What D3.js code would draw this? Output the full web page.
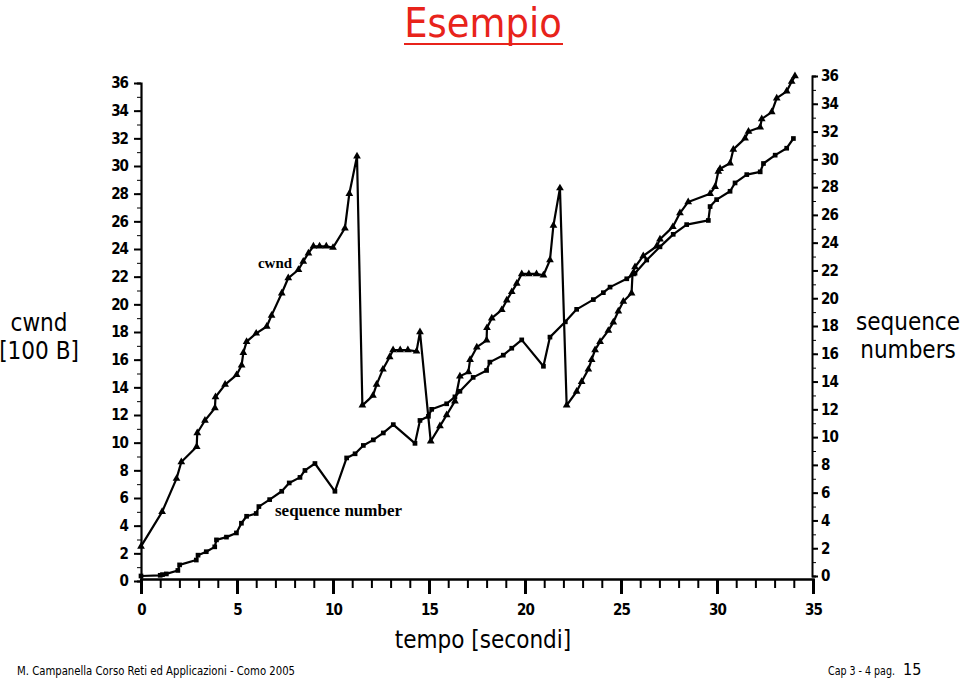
<!DOCTYPE html>
<html>
<head>
<meta charset="utf-8">
<script src="https://cdn.jsdelivr.net/npm/d3@7"></script>
<style>
  html, body { margin: 0; padding: 0; background: #fff; }
  svg { display: block; }
  .tick text { font-family: "DejaVu Sans Condensed", "DejaVu Sans", sans-serif; font-weight: bold; font-size: 15px; letter-spacing: -1px; fill: #000; }
  .tick line, .domain { stroke: #000; }
</style>
</head>
<body>
<svg id="chart" width="960" height="678"></svg>
<script>
// ---- data ----
const cwndTime = [0, 1.1, 1.85, 2.1, 2.9, 2.93, 3.33, 3.85, 3.88, 4.38, 4.98, 5.24, 5.33, 5.5, 6.0, 6.55, 6.8, 7.33, 7.67, 8.2, 8.45, 8.72, 8.98, 9.3, 9.65, 10.0, 10.62, 10.85, 11.25, 11.53, 12.08, 12.27, 12.6, 12.95, 13.13, 13.5, 13.9, 14.35, 14.53, 15.09, 15.57, 15.92, 16.35, 16.61, 17.05, 17.14, 17.49, 18.0, 18.02, 18.27, 18.79, 19.05, 19.31, 19.57, 19.83, 20.2, 20.6, 20.96, 21.3, 21.48, 21.82, 22.17, 22.69, 22.95, 23.3, 23.47, 23.65, 23.91, 24.34, 24.6, 24.86, 25.12, 25.55, 25.6, 25.73, 26.16, 26.86, 27.03, 27.7, 28.07, 28.5, 29.64, 29.9, 30.07, 30.16, 30.68, 30.85, 31.46, 31.64, 32.25, 32.33, 32.85, 33.11, 33.63, 33.89, 34.06];
const cwndValue = [2.5, 5.0, 7.4, 8.6, 9.7, 10.7, 11.6, 12.5, 13.3, 14.2, 14.9, 15.6, 16.5, 17.3, 17.9, 18.4, 19.2, 20.8, 21.9, 22.5, 23.1, 23.7, 24.2, 24.2, 24.2, 24.1, 25.5, 28.0, 30.7, 12.7, 13.4, 14.2, 15.3, 16.2, 16.7, 16.7, 16.7, 16.6, 18.0, 10.1, 11.2, 12.0, 13.0, 14.8, 15.1, 16.0, 16.9, 17.4, 18.3, 19.0, 19.6, 20.3, 20.9, 21.5, 22.2, 22.2, 22.2, 22.1, 23.2, 25.7, 28.4, 12.7, 13.7, 14.4, 15.3, 16.0, 16.7, 17.3, 18.1, 18.7, 19.5, 20.2, 20.8, 22.2, 22.7, 23.5, 24.2, 24.7, 25.6, 26.6, 27.4, 28.0, 28.5, 29.6, 29.8, 30.2, 31.2, 32.0, 32.5, 32.8, 33.4, 33.9, 34.9, 35.4, 36.1, 36.5];

const seqTime = [0, 1.0, 1.12, 1.32, 1.92, 2.01, 2.88, 2.97, 3.4, 3.84, 3.93, 4.45, 4.97, 5.23, 5.5, 6.0, 6.14, 6.7, 7.33, 7.72, 8.28, 8.54, 9.06, 10.1, 10.71, 11.15, 11.58, 12.1, 12.62, 13.14, 14.27, 14.53, 14.97, 15.14, 15.92, 16.35, 16.61, 17.3, 18.0, 18.17, 18.87, 19.31, 19.83, 20.96, 21.3, 22.1, 22.69, 23.56, 24.08, 24.43, 25.3, 25.73, 26.34, 27.03, 27.72, 28.42, 29.55, 29.64, 29.98, 30.68, 30.94, 31.55, 32.25, 32.42, 33.03, 33.63, 33.98];
const seqValue = [0, 0.05, 0.1, 0.15, 0.4, 0.8, 1.15, 1.5, 1.75, 2.1, 2.6, 2.8, 3.1, 3.8, 4.3, 4.5, 5.0, 5.5, 6.1, 6.7, 7.1, 7.6, 8.1, 6.1, 8.5, 8.8, 9.4, 9.8, 10.3, 10.9, 9.55, 11.2, 11.5, 12.0, 12.4, 12.9, 13.3, 14.3, 14.8, 15.4, 15.9, 16.4, 17.0, 15.1, 17.2, 18.3, 19.2, 19.9, 20.4, 20.8, 21.4, 21.8, 22.75, 23.7, 24.6, 25.3, 25.6, 26.6, 27.1, 27.7, 28.3, 28.9, 29.1, 29.7, 30.3, 30.8, 31.5];

const xTicks = [0, 5, 10, 15, 20, 25, 30, 35];
const yTicks = [0, 2, 4, 6, 8, 10, 12, 14, 16, 18, 20, 22, 24, 26, 28, 30, 32, 34, 36];

// ---- drawing ----
const svg = d3.select("#chart");
const x = d3.scaleLinear().domain([0, 35]).range([141, 813]);
const yL = d3.scaleLinear().domain([0, 36]).range([581, 83]);
const yR = d3.scaleLinear().domain([0, 36]).range([576, 76]);
const baseY = 579;

// Title
svg.append("text").attr("x", 483).attr("y", 37).attr("text-anchor", "middle")
  .style("font-family", "'DejaVu Sans Condensed','DejaVu Sans',sans-serif")
  .style("font-size", "41px").attr("fill", "#e8231b").text("Esempio");
svg.append("line").attr("x1", 404).attr("x2", 563).attr("y1", 44).attr("y2", 44)
  .attr("stroke", "#e8231b").attr("stroke-width", 2);

// Left axis (minor + major)
svg.append("g").attr("transform", "translate(141,0)")
  .call(d3.axisLeft(yL).tickValues(d3.range(0, 37, 1)).tickSize(4).tickFormat(""))
  .call(g => g.select(".domain").attr("stroke-width", 2.2));
svg.append("g").attr("transform", "translate(141,0)")
  .call(d3.axisLeft(yL).tickValues(yTicks).tickSize(7).tickPadding(6).tickFormat(d3.format("d")))
  .call(g => g.select(".domain").remove())
  .call(g => g.selectAll("line").attr("stroke-width", 2));

// Right axis
svg.append("g").attr("transform", "translate(812,0)")
  .call(d3.axisRight(yR).tickValues(d3.range(0, 37, 1)).tickSize(4).tickFormat(""))
  .call(g => g.select(".domain").attr("stroke-width", 2));
svg.append("g").attr("transform", "translate(812,0)")
  .call(d3.axisRight(yR).tickValues(yTicks).tickSize(6).tickPadding(3).tickFormat(d3.format("d")))
  .call(g => g.select(".domain").remove())
  .call(g => g.selectAll("line").attr("stroke-width", 2));

// Bottom axis
svg.append("g").attr("transform", `translate(0,${baseY})`)
  .call(d3.axisBottom(x).tickValues(d3.range(0, 36, 1)).tickSize(9).tickFormat(""))
  .call(g => g.select(".domain").attr("stroke-width", 2.5))
  .call(g => g.selectAll("line").attr("stroke-width", 2));
svg.append("g").attr("transform", `translate(0,${baseY})`)
  .call(d3.axisBottom(x).tickValues(xTicks).tickSize(15).tickPadding(10).tickFormat(d3.format("d")))
  .call(g => g.select(".domain").remove())
  .call(g => g.selectAll("line").attr("stroke-width", 3));

// Lines
const cwndData = cwndTime.map((t, i) => [t, cwndValue[i]]);
const seqData = seqTime.map((t, i) => [t, seqValue[i]]);

svg.append("path").datum(cwndData)
  .attr("d", d3.line().x(d => x(d[0])).y(d => yL(d[1])))
  .attr("fill", "none").attr("stroke", "#000").attr("stroke-width", 2.2).attr("stroke-linejoin", "round");
svg.append("path").datum(seqData)
  .attr("d", d3.line().x(d => x(d[0])).y(d => yR(d[1])))
  .attr("fill", "none").attr("stroke", "#000").attr("stroke-width", 2.2).attr("stroke-linejoin", "round");

// Markers
svg.append("g").selectAll("path").data(cwndData).join("path")
  .attr("transform", d => `translate(${x(d[0])},${yL(d[1])})`)
  .attr("d", d3.symbol(d3.symbolTriangle, 26)).attr("fill", "#000");
svg.append("g").selectAll("path").data(seqData).join("path")
  .attr("transform", d => `translate(${x(d[0])},${yR(d[1])})`)
  .attr("d", d3.symbol(d3.symbolSquare, 22)).attr("fill", "#000");

// In-plot labels
svg.append("text").attr("x", 258).attr("y", 268)
  .attr("textLength", 34).attr("lengthAdjust", "spacingAndGlyphs")
  .style("font-family", "'Liberation Serif',serif").style("font-weight", "bold").style("font-size", "14px")
  .text("cwnd");
svg.append("text").attr("x", 275).attr("y", 516)
  .attr("textLength", 127).attr("lengthAdjust", "spacingAndGlyphs")
  .style("font-family", "'Liberation Serif',serif").style("font-weight", "bold").style("font-size", "16px")
  .text("sequence number");

// Axis titles
const titleFont = "'DejaVu Sans Condensed','DejaVu Sans',sans-serif";
svg.append("text").attr("x", 39).attr("y", 331).attr("text-anchor", "middle")
  .style("font-family", titleFont).style("font-size", "24px").text("cwnd");
svg.append("text").attr("x", 39).attr("y", 359).attr("text-anchor", "middle")
  .style("font-family", titleFont).style("font-size", "24px").text("[100 B]");
svg.append("text").attr("x", 908).attr("y", 330).attr("text-anchor", "middle")
  .style("font-family", titleFont).style("font-size", "24px").text("sequence");
svg.append("text").attr("x", 908).attr("y", 358).attr("text-anchor", "middle")
  .style("font-family", titleFont).style("font-size", "24px").text("numbers");
svg.append("text").attr("x", 483).attr("y", 648).attr("text-anchor", "middle")
  .style("font-family", titleFont).style("font-size", "24px").text("tempo [secondi]");

// Footer
svg.append("text").attr("x", 17).attr("y", 675)
  .attr("textLength", 278).attr("lengthAdjust", "spacingAndGlyphs")
  .style("font-family", titleFont).style("font-size", "12px").text("M. Campanella Corso Reti ed Applicazioni - Como 2005");
svg.append("text").attr("x", 828).attr("y", 675)
  .attr("textLength", 67).attr("lengthAdjust", "spacingAndGlyphs")
  .style("font-family", titleFont).style("font-size", "12px").text("Cap 3 - 4 pag.");
svg.append("text").attr("x", 903).attr("y", 675)
  .style("font-family", titleFont).style("font-size", "16px").text("15");
</script>
</body>
</html>
